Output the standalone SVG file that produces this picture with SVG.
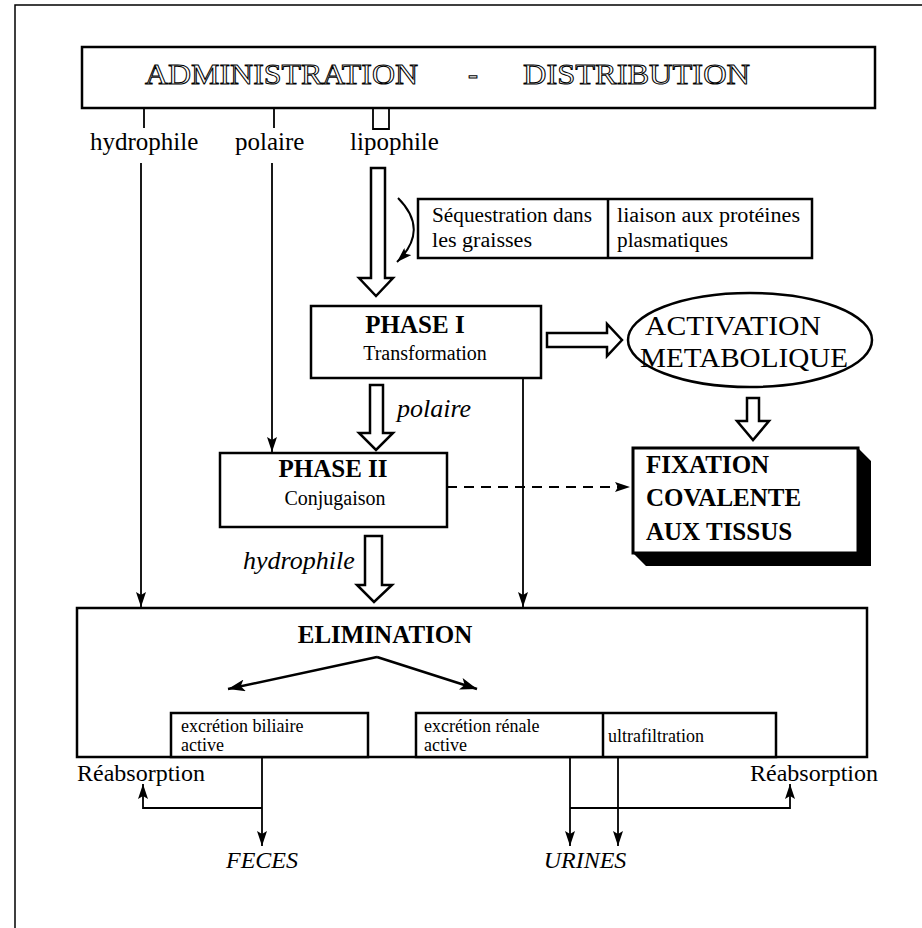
<svg xmlns="http://www.w3.org/2000/svg" width="922" height="928" viewBox="0 0 922 928">
<style>
.t{font-family:"Liberation Serif","Times New Roman",serif;fill:#000}
.b{font-weight:bold}
.i{font-style:italic}
.hol{font-family:"Liberation Serif","Times New Roman",serif;fill:#fff;stroke:#000;stroke-width:1}
.box{fill:#fff;stroke:#000;stroke-width:2.5}
.ln{fill:none;stroke:#000;stroke-width:1.8}
.hollow{fill:#fff;stroke:#000;stroke-width:2.5;stroke-linejoin:miter}
</style>
<defs>
<marker id="ah" markerUnits="userSpaceOnUse" markerWidth="16" markerHeight="10" refX="15" refY="5" orient="auto">
<path d="M0,0 L15,5 L0,10 L3,5 z" fill="#000"/>
</marker>
<marker id="ahb" markerUnits="userSpaceOnUse" markerWidth="18" markerHeight="12" refX="17" refY="6" orient="auto">
<path d="M0,0 L17,6 L0,12 L4,6 z" fill="#000"/>
</marker>
</defs>
<rect width="922" height="928" fill="#fff"/>
<path d="M15,928 V5 H922" fill="none" stroke="#000" stroke-width="1.5"/>

<g id="admin">
<rect class="box" x="82" y="47" width="793" height="61"/>
<text class="hol" x="145" y="84" font-size="30" textLength="273" lengthAdjust="spacingAndGlyphs">ADMINISTRATION</text>
<text class="hol" x="468" y="84" font-size="30">-</text>
<text class="hol" x="523" y="84" font-size="30" textLength="227" lengthAdjust="spacingAndGlyphs">DISTRIBUTION</text>
</g>

<g id="labels-top">
<text class="t" x="90" y="150" font-size="25">hydrophile</text>
<text class="t" x="235" y="150" font-size="25">polaire</text>
<text class="t" x="350" y="150" font-size="25">lipophile</text>
</g>

<g id="sequestration">
<rect class="box" x="418" y="199" width="394" height="59"/>
<line x1="608" y1="199" x2="608" y2="258" stroke="#000" stroke-width="2.5"/>
<text class="t" x="432" y="222" font-size="20" textLength="160" lengthAdjust="spacingAndGlyphs">Séquestration dans</text>
<text class="t" x="432" y="247" font-size="20" textLength="100" lengthAdjust="spacingAndGlyphs">les graisses</text>
<text class="t" x="617" y="222" font-size="20" textLength="183" lengthAdjust="spacingAndGlyphs">liaison aux protéines</text>
<text class="t" x="617" y="247" font-size="20" textLength="111" lengthAdjust="spacingAndGlyphs">plasmatiques</text>
</g>

<g id="phase1">
<rect class="box" x="311" y="306" width="230" height="72"/>
<text class="t b" x="415" y="333" font-size="25" text-anchor="middle">PHASE I</text>
<text class="t" x="425" y="360" font-size="20" text-anchor="middle">Transformation</text>
</g>

<g id="activation">
<ellipse cx="750" cy="340" rx="122" ry="47" fill="#fff" stroke="#000" stroke-width="2.5"/>
<text class="t" x="645" y="335" font-size="27" textLength="176" lengthAdjust="spacingAndGlyphs">ACTIVATION</text>
<text class="t" x="640" y="367" font-size="27" textLength="208" lengthAdjust="spacingAndGlyphs">METABOLIQUE</text>
</g>

<g id="phase2">
<rect class="box" x="220" y="453" width="227" height="74"/>
<text class="t b" x="333" y="477" font-size="25" text-anchor="middle">PHASE II</text>
<text class="t" x="335" y="505" font-size="20" text-anchor="middle">Conjugaison</text>
</g>

<g id="fixation">
<path d="M858,448 L871,461 L871,566 L646,566 L633,553 L858,553 z" fill="#000"/>
<rect x="633" y="448" width="225" height="105" fill="#fff" stroke="#000" stroke-width="3"/>
<text class="t b" x="646" y="473" font-size="25">FIXATION</text>
<text class="t b" x="646" y="506" font-size="25">COVALENTE</text>
<text class="t b" x="646" y="540" font-size="25">AUX TISSUS</text>
</g>

<g id="elimination">
<rect class="box" x="77" y="608" width="790" height="149"/>
<text class="t b" x="385" y="643" font-size="25" text-anchor="middle">ELIMINATION</text>
</g>

<g id="biliaire">
<rect class="box" x="171" y="713" width="197" height="44"/>
<text class="t" x="181" y="732" font-size="18">excrétion biliaire</text>
<text class="t" x="181" y="751" font-size="18">active</text>
</g>

<g id="renale">
<rect class="box" x="416" y="713" width="360" height="44"/>
<line x1="603" y1="713" x2="603" y2="757" stroke="#000" stroke-width="2.5"/>
<text class="t" x="424" y="732" font-size="18">excrétion rénale</text>
<text class="t" x="424" y="751" font-size="18">active</text>
<text class="t" x="608" y="742" font-size="18">ultrafiltration</text>
</g>

<g id="labels-bottom">
<text class="t" x="77" y="781" font-size="24">Réabsorption</text>
<text class="t" x="878" y="781" font-size="24" text-anchor="end">Réabsorption</text>
<text class="t i" x="262" y="868" font-size="24" text-anchor="middle">FECES</text>
<text class="t i" x="585" y="868" font-size="24" text-anchor="middle">URINES</text>
<text class="t i" x="397" y="417" font-size="26">polaire</text>
<text class="t i" x="243" y="569" font-size="26">hydrophile</text>
</g>

<g id="connectors">
<line class="ln" x1="144" y1="108" x2="144" y2="128"/>
<line class="ln" x1="274" y1="108" x2="274" y2="128"/>
<path class="ln" d="M373,108 V129 H389 V108"/>
<line class="ln" x1="141" y1="163" x2="141" y2="607" marker-end="url(#ah)"/>
<line class="ln" x1="272" y1="163" x2="272" y2="452" marker-end="url(#ah)"/>
<line class="ln" x1="523" y1="378" x2="523" y2="607" marker-end="url(#ah)"/>
<polygon class="hollow" points="371,168 385,168 385,278 393,278 376,296 359,278 371,278"/>
<path d="M398,198 Q430,230 397,262" fill="none" stroke="#000" stroke-width="2" marker-end="url(#ah)"/>
<polygon class="hollow" points="547,333 607,333 607,324 622,340 607,356 607,347 547,347"/>
<polygon class="hollow" points="370,385 383,385 383,433 393,433 376,450 359,433 370,433"/>
<polygon class="hollow" points="365,536 382,536 382,585 392,585 374,602 357,585 365,585"/>
<polygon class="hollow" points="747,398 759,398 759,421 769,421 753,440 737,421 747,421"/>
<line x1="447" y1="487" x2="630" y2="487" stroke="#000" stroke-width="2" stroke-dasharray="10,7" marker-end="url(#ah)"/>
<line x1="377" y1="657" x2="228" y2="689" stroke="#000" stroke-width="2.5" marker-end="url(#ahb)"/>
<line x1="377" y1="657" x2="477" y2="689" stroke="#000" stroke-width="2.5" marker-end="url(#ahb)"/>
<line class="ln" x1="262" y1="757" x2="262" y2="846" marker-end="url(#ah)"/>
<path class="ln" d="M262,808 H143 V784" marker-end="url(#ah)"/>
<line class="ln" x1="570" y1="757" x2="570" y2="846" marker-end="url(#ah)"/>
<line class="ln" x1="618" y1="757" x2="618" y2="846" marker-end="url(#ah)"/>
<path class="ln" d="M570,808 H790 V784" marker-end="url(#ah)"/>
</g>
</svg>
